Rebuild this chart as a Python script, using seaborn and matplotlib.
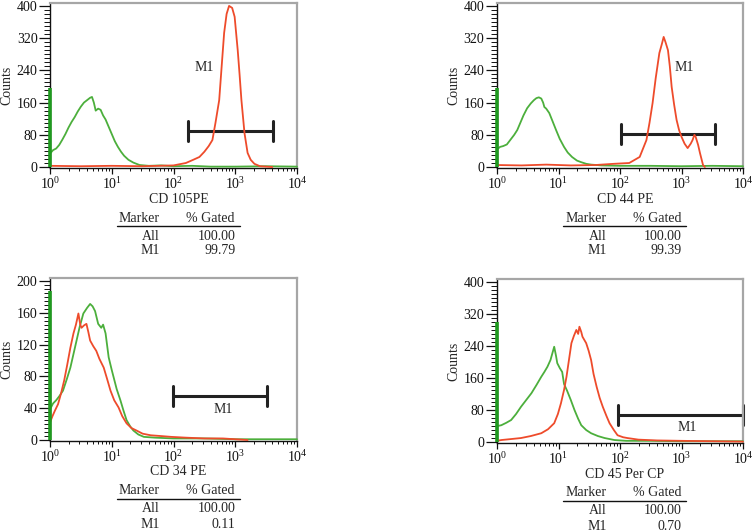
import numpy as np
import pandas as pd
import matplotlib
matplotlib.use('Agg')
import matplotlib.pyplot as plt
import matplotlib.transforms as mtransforms
from matplotlib.ticker import MultipleLocator, AutoMinorLocator, LogLocator, NullFormatter
import seaborn as sns

# HISTOGRAM DATA (x in decades = log10 of channel, y in counts)

# CD 105 PE
cd105_iso_dec = [0.0, 0.01, 0.05, 0.1, 0.15, 0.2, 0.25, 0.3, 0.35, 0.4, 0.45, 0.5, 0.55, 0.6, 0.65,
                 0.68, 0.71, 0.74, 0.78, 0.82, 0.86, 0.9, 0.95, 1.0, 1.05, 1.1, 1.15, 1.2, 1.27, 1.35,
                 1.45, 1.6, 1.8, 2.0, 2.3, 2.6, 3.0, 3.5, 4.0]
cd105_iso_cnt = [40, 35, 42, 46, 55, 68, 82, 98, 112, 124, 138, 150, 160, 166, 172,
                 174, 160, 140, 145, 142, 128, 118, 100, 82, 64, 50, 38, 28, 18, 11,
                 5, 3, 4, 2, 3, 1, 1, 2, 1]
cd105_pos_dec = [0.0, 0.5, 1.0, 1.5, 2.0, 2.2, 2.32, 2.42, 2.5, 2.57, 2.63, 2.68, 2.74, 2.78, 2.82,
                 2.86, 2.9, 2.95, 2.99, 3.04, 3.07, 3.1, 3.15, 3.2, 3.25, 3.31, 3.4, 3.6]
cd105_pos_cnt = [3, 2, 3, 2, 4, 10, 18, 25, 38, 52, 67, 110, 166, 250, 333,
                 380, 400, 395, 373, 290, 230, 166, 84, 35, 18, 8, 2, 0]

# CD 44 PE
cd44_iso_dec = [0.0, 0.01, 0.05, 0.1, 0.16, 0.22, 0.28, 0.33, 0.38, 0.43, 0.49, 0.55, 0.6, 0.64,
                0.68, 0.72, 0.75, 0.77, 0.8, 0.85, 0.9, 0.96, 1.02, 1.09, 1.15, 1.22, 1.3, 1.37,
                1.45, 1.53, 1.7, 2.0, 2.5, 3.0, 3.5, 4.0]
cd44_iso_cnt = [48, 45, 50, 52, 56, 68, 80, 92, 110, 128, 146, 158, 166, 171,
                173, 170, 160, 149, 145, 134, 115, 92, 70, 50, 36, 25, 16, 12,
                8, 6, 4, 3, 3, 2, 3, 2]
cd44_pos_dec = [0.0, 0.4, 0.8, 1.2, 1.6, 1.9, 2.15, 2.32, 2.43, 2.48, 2.53, 2.58, 2.64, 2.68, 2.71,
                2.74, 2.78, 2.81, 2.84, 2.88, 2.92, 2.96, 3.0, 3.05, 3.1, 3.15, 3.18, 3.21, 3.23,
                3.27, 3.3, 3.35, 3.38]
cd44_pos_cnt = [5, 4, 6, 4, 5, 8, 10, 25, 67, 110, 159, 220, 283, 305, 323,
                310, 290, 250, 199, 155, 117, 92, 75, 58, 47, 58, 67, 80, 75,
                55, 35, 5, 0]

# CD 34 PE
cd34_iso_dec = [0.0, 0.01, 0.05, 0.1, 0.15, 0.21, 0.27, 0.33, 0.38, 0.43, 0.48, 0.54, 0.6, 0.65,
                0.69, 0.73, 0.78, 0.83, 0.86, 0.9, 0.95, 1.0, 1.03, 1.08, 1.14, 1.19, 1.24, 1.3,
                1.35, 1.43, 1.52, 1.7, 2.0, 2.5, 3.0, 3.5, 4.0]
cd34_iso_cnt = [44, 40, 46, 50, 55, 62, 76, 91, 108, 125, 142, 159, 166, 171,
                168, 162, 146, 141, 145, 134, 104, 88, 79, 64, 50, 37, 25, 17,
                12, 7, 4, 3, 2, 2, 1, 1, 1]
cd34_pos_dec = [0.0, 0.04, 0.08, 0.13, 0.18, 0.23, 0.28, 0.33, 0.38, 0.42, 0.46, 0.49, 0.51, 0.55,
                0.59, 0.62, 0.65, 0.7, 0.75, 0.8, 0.87, 0.92, 0.98, 1.04, 1.11, 1.17, 1.24, 1.32,
                1.4, 1.5, 1.63, 1.8, 1.96, 2.2, 2.5, 2.8, 3.0, 3.2]
cd34_pos_cnt = [22, 30, 37, 45, 59, 75, 95, 116, 134, 145, 159, 145, 141, 144,
                146, 136, 125, 118, 112, 102, 91, 78, 62, 50, 41, 30, 21, 15,
                12, 8, 6, 5, 4, 3, 2, 2, 1, 0]

# CD 45 PerCP
cd45_iso_dec = [0.0, 0.01, 0.07, 0.15, 0.23, 0.31, 0.39, 0.47, 0.56, 0.64, 0.72, 0.77, 0.82,
                0.87, 0.93, 0.96, 0.98, 1.02, 1.06, 1.09, 1.14, 1.2, 1.26, 1.32, 1.37, 1.45, 1.53,
                1.64, 1.75, 1.91, 2.1, 2.5, 3.0, 3.5, 4.0]
cd45_iso_cnt = [44, 40, 42, 48, 55, 70, 88, 104, 122, 142, 163, 175, 188,
                205, 238, 215, 197, 185, 175, 145, 128, 105, 80, 58, 42, 30, 22,
                15, 10, 5, 3, 3, 2, 2, 2]
cd45_pos_dec = [0.0, 0.07, 0.2, 0.39, 0.55, 0.72, 0.83, 0.93, 0.99, 1.04, 1.09, 1.13, 1.17, 1.21,
                1.25, 1.29, 1.32, 1.34, 1.37, 1.39, 1.42, 1.45, 1.49, 1.53, 1.57, 1.62, 1.67, 1.72,
                1.78, 1.83, 1.9, 1.96, 2.05, 2.12, 2.3, 2.6, 3.0, 3.5, 4.0]
cd45_pos_cnt = [3, 5, 7, 10, 15, 22, 32, 47, 70, 97, 130, 163, 205, 247,
                265, 280, 270, 288, 275, 263, 255, 247, 228, 205, 170, 138, 110, 88,
                65, 47, 30, 17, 12, 10, 6, 4, 3, 2, 1]

# counts piled up in the first channel of the isotype histogram
iso_first_channel = [196, 196, 187, 300]

# axis titles, count ranges, M1 gates (decades) and % gated
x_titles = ['CD 105PE', 'CD 44 PE', 'CD 34 PE', 'CD 45 Per CP']
y_max = [400, 400, 200, 400]
y_step = [80, 80, 40, 80]
m1_lo = [2.24, 2.01, 1.99, 1.96]
m1_hi = [3.61, 3.54, 3.51, 4.0]
m1_y = [89, 82, 55, 67]
m1_text_dec = [2.5, 3.05, 2.81, 3.1]
m1_text_y = [246, 246, 39, 37]
gated_all = ['100.00', '100.00', '100.00', '100.00']
gated_m1 = ['99.79', '99.39', '0.11', '0.70']

iso_sets = [(cd105_iso_dec, cd105_iso_cnt), (cd44_iso_dec, cd44_iso_cnt),
            (cd34_iso_dec, cd34_iso_cnt), (cd45_iso_dec, cd45_iso_cnt)]
pos_sets = [(cd105_pos_dec, cd105_pos_cnt), (cd44_pos_dec, cd44_pos_cnt),
            (cd34_pos_dec, cd34_pos_cnt), (cd45_pos_dec, cd45_pos_cnt)]

# STYLE
sns.set_style('ticks')
plt.rcParams['font.family'] = ['Liberation Serif', 'DejaVu Serif']
plt.rcParams['mathtext.fontset'] = 'custom'
plt.rcParams['mathtext.rm'] = 'Liberation Serif'
plt.rcParams['font.size'] = 10

green = '#4caf3c'
dark_green = '#1f9a1f'
red = '#ee4b2b'

fig = plt.figure(figsize=(7.56, 5.32), dpi=100)
W, H = 756, 532
# axes boxes in pixels: left, top, width, height
boxes = [(50, 3, 247, 165), (497, 3, 246, 165), (50, 278, 247, 163), (497, 279, 246, 164)]


def draw_panel(ax, i):
    iso_dec, iso_cnt = iso_sets[i]
    pos_dec, pos_cnt = pos_sets[i]
    df = pd.concat([
        pd.DataFrame({'decade': iso_dec, 'counts': iso_cnt, 'stain': 'isotype'}),
        pd.DataFrame({'decade': pos_dec, 'counts': pos_cnt, 'stain': 'marker'}),
    ], ignore_index=True)
    df['fluor'] = np.power(10.0, df['decade'])

    sns.lineplot(data=df, x='fluor', y='counts', hue='stain', hue_order=['isotype', 'marker'],
                 palette={'isotype': green, 'marker': red}, estimator=None, sort=False,
                 legend=False, lw=1.3, ax=ax)
    for ln in ax.get_lines():
        ln.set_zorder(3)
        ln.set_clip_on(False)

    ax.set_xscale('log')
    ax.set_xlim(1, 1e4)
    ymax = y_max[i]
    ax.set_ylim(-0.006 * ymax, 1.018 * ymax)

    # first-channel pile-up sitting on the left axis
    ax.plot([1.01, 1.01], [0, iso_first_channel[i]], color=dark_green, lw=2.6,
            zorder=5, clip_on=False, solid_capstyle='butt')

    ax.xaxis.set_major_locator(LogLocator(base=10))
    ax.xaxis.set_minor_locator(LogLocator(base=10, subs=np.arange(2, 10)))
    ax.xaxis.set_minor_formatter(NullFormatter())
    ax.yaxis.set_major_locator(MultipleLocator(y_step[i]))
    ax.yaxis.set_minor_locator(AutoMinorLocator(8))
    ax.tick_params(which='major', direction='out', width=0.9, labelsize=10, colors='#111')
    ax.tick_params(which='minor', direction='out', width=0.7, colors='#111')
    ax.tick_params(axis='y', which='major', length=8, pad=1)
    ax.tick_params(axis='y', which='minor', length=4.5)
    ax.tick_params(axis='x', which='major', length=4, pad=2)
    ax.tick_params(axis='x', which='minor', length=2.5)

    for side in ['left', 'bottom']:
        ax.spines[side].set_color('#111')
        ax.spines[side].set_linewidth(1.0)
    for side in ['top', 'right']:
        ax.spines[side].set_visible(True)
        ax.spines[side].set_color('#a6a6a6')
        ax.spines[side].set_linewidth(1.6)

    # M1 gate bar
    lo, hi, gy = 10 ** m1_lo[i], 10 ** m1_hi[i], m1_y[i]
    cap = 0.062 * ymax
    ax.plot([lo, hi], [gy, gy], color='#222', lw=2.2, clip_on=False, solid_capstyle='butt')
    ax.plot([lo, lo], [gy - cap, gy + cap], color='#222', lw=2.2, clip_on=False)
    ax.plot([hi, hi], [gy - cap, gy + cap], color='#222', lw=2.2, clip_on=False)
    ax.text(10 ** m1_text_dec[i], m1_text_y[i], 'M1', ha='center', va='center', fontsize=10)

    ax.set_ylabel('Counts', fontsize=10)
    ax.yaxis.set_label_coords(-0.148, 0.5)
    ax.set_xlabel(x_titles[i], fontsize=10)
    ax.xaxis.set_label_coords(0.52, -0.15)

    # gated statistics table under the axis
    def below(dy):
        return mtransforms.offset_copy(ax.transAxes, fig=fig, x=0, y=-dy, units='dots')
    ax.text(0.36, 0, 'Marker', transform=below(50), ha='center', va='center', fontsize=10)
    ax.text(0.65, 0, '% Gated', transform=below(50), ha='center', va='center', fontsize=10)
    ax.plot([0.27, 0.77], [0, 0], transform=below(58), color='#111', lw=1.0, clip_on=False)
    ax.text(0.445, 0, 'All', transform=below(68), ha='right', va='center', fontsize=10)
    ax.text(0.75, 0, gated_all[i], transform=below(68), ha='right', va='center', fontsize=10)
    ax.text(0.445, 0, 'M1', transform=below(83), ha='right', va='center', fontsize=10)
    ax.text(0.75, 0, gated_m1[i], transform=below(83), ha='right', va='center', fontsize=10)


for i, (left, top, w, h) in enumerate(boxes):
    ax = fig.add_axes([left / W, 1 - (top + h) / H, w / W, h / H])
    draw_panel(ax, i)

fig.savefig('out.png', dpi=100)
